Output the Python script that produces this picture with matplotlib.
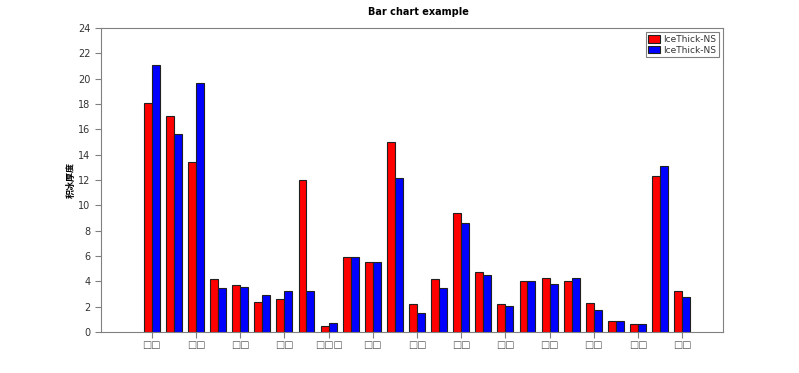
import numpy as np
import matplotlib.pyplot as plt

plt.rcParams['font.family'] = ['DejaVu Sans', 'Noto Sans CJK SC']

# values (two series, both labelled IceThick-NS)
red_vals = [18.1, 17.05, 13.4, 4.18, 3.71, 2.39, 2.6, 11.97, 0.47, 5.95, 5.55, 14.97, 2.18,
            4.18, 9.43, 4.73, 2.18, 4.0, 4.26, 4.0, 2.26, 0.84, 0.6, 12.3, 3.24]
blue_vals = [21.1, 15.6, 19.63, 3.5, 3.53, 2.89, 3.21, 3.21, 0.74, 5.95, 5.55, 12.18, 1.5,
             3.5, 8.6, 4.5, 2.05, 4.0, 3.76, 4.26, 1.76, 0.84, 0.6, 13.1, 2.76]
tick_labels = ["□□", "□□", "□□", "□□", "□□□", "□□", "□□", "□□", "□□", "□□", "□□", "□□", "□□"]

x = np.arange(len(red_vals))
w = 0.36

fig = plt.figure(figsize=(7.99, 3.73), dpi=100)
ax = fig.add_axes([0.1264, 0.110, 0.7785, 0.815])

ax.bar(x - w/2, red_vals, w, color="#ff0000", edgecolor="#202020", lw=0.8, label="IceThick-NS", zorder=2)
ax.bar(x + w/2, blue_vals, w, color="#0000ff", edgecolor="#202020", lw=0.8, label="IceThick-NS", zorder=2)

ax.set_xlim(-2.3, 25.85)
ax.set_ylim(0, 24)
ax.set_yticks(np.arange(0, 25, 2))
ax.set_xticks(x[::2])
ax.set_xticklabels(tick_labels, fontsize=5.5, color="#555555")

for s in ax.spines.values():
    s.set_color("#808080")
ax.tick_params(colors="#808080", labelcolor="#333333", labelsize=7, length=4, width=0.8)
ax.tick_params(axis="x", pad=1.5, labelcolor="#555555")

ax.set_title("Bar chart example", fontsize=7, fontweight="bold", pad=9, x=0.51)
ax.set_ylabel("积冰厚度", family=['Noto Sans CJK SC', 'DejaVu Sans'], fontsize=6.5, fontweight="bold", labelpad=0)
ax.yaxis.set_label_coords(-0.041, 0.5)

leg = ax.legend(loc="upper right", fontsize=6.5, frameon=True, fancybox=False, borderpad=0.3,
                handlelength=1.3, handleheight=0.9, handletextpad=0.3, labelspacing=0.15,
                borderaxespad=0.5)
leg.get_frame().set_edgecolor("#606060")
leg.get_frame().set_linewidth(0.8)
for t in leg.get_texts():
    t.set_color("#333333")

fig.savefig("out.png", dpi=100)
